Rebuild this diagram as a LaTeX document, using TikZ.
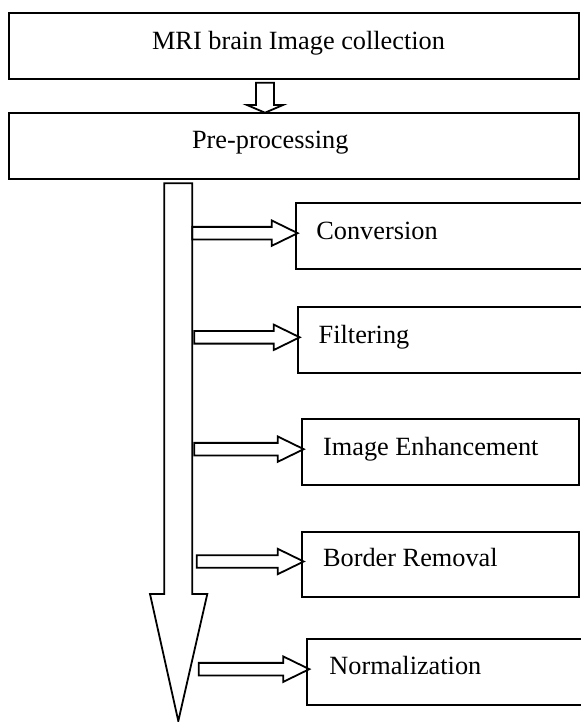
\documentclass[tikz,border=0pt]{standalone}
\usepackage{fontspec}
\setmainfont{Liberation Serif}
\usetikzlibrary{calc}

% Horizontal block arrow from the main flow shaft (start x, in px) to a stage box
\newcommand\sidearrow[2]{%
  \draw[blockarrow] let \p1 = ($(#2.west)+(2,-3)$) in
    ({#1*0.5pt},\y1-3.15pt) -- (\x1-13pt,\y1-3.15pt) -- (\x1-13pt,\y1-6.35pt)
    -- (\x1,\y1) -- (\x1-13pt,\y1+6.35pt) -- (\x1-13pt,\y1+3.15pt)
    -- ({#1*0.5pt},\y1+3.15pt) -- cycle;}

\begin{document}
\begin{tikzpicture}[x=0.5pt,y=-0.5pt,
  stagebox/.style={draw=black,line width=1pt,rectangle,anchor=north west,
    inner sep=0pt,outer sep=0pt},
  stagetext/.style={anchor=base west,inner sep=0pt,
    font=\fontsize{13.15}{15}\selectfont},
  blockarrow/.style={draw=black,line width=0.9pt,line join=miter}]
\useasboundingbox (0,0) rectangle (580,722);

% main stages
\node[stagebox,minimum width=285pt,minimum height=33pt] (collect) at (9.3,13.3) {};
\node[stagebox,minimum width=285pt,minimum height=33pt] (prep) at (9.3,113.3) {};
\node[stagetext] (collecttxt) at (151.7,50) {MRI brain Image collection};
\node[stagetext] (preptxt) at (191.7,148.3) {Pre-processing};

% pre-processing steps
\node[stagebox,minimum width=144.65pt,minimum height=32.85pt] (conv) at (295.7,203.3) {};
\node[stagebox,minimum width=143.65pt,minimum height=33pt] (filt) at (297.7,307.3) {};
\node[stagebox,minimum width=138.8pt,minimum height=32.85pt] (enh) at (301.7,419.3) {};
\node[stagebox,minimum width=138.8pt,minimum height=32.8pt] (border) at (301.7,531.7) {};
\node[stagebox,minimum width=138.85pt,minimum height=32.85pt] (norm) at (307.3,639.3) {};

\node[stagetext] (convtxt) at (316,239.8) {Conversion};
\node[stagetext] (filttxt) at (318.3,343.2) {Filtering};
\node[stagetext] (enhtxt) at (322.7,455) {Image Enhancement};
\node[stagetext] (bordertxt) at (322.7,566.7) {Border Removal};
\node[stagetext] (normtxt) at (329,674) {Normalization};

% arrow from collection into pre-processing
\coordinate (drop) at (265,112.7);
\draw[blockarrow] (drop) -- ++(-18,-7.7) -- ++(9,0) -- ++(0,-22.3) -- ++(18,0)
  -- ++(0,22.3) -- ++(9,0) -- cycle;

% long flow arrow below pre-processing
\coordinate (flowtip) at (178.3,721);
\draw[blockarrow] (flowtip) -- (150,594) -- (164.3,594) -- (164.3,183.3)
  -- (192.3,183.3) -- (192.3,594) -- (207.3,594) -- cycle;

% branches to each step
\sidearrow{192.3}{conv}
\sidearrow{194.3}{filt}
\sidearrow{194.3}{enh}
\sidearrow{196.7}{border}
\sidearrow{198.7}{norm}
\end{tikzpicture}
\end{document}
